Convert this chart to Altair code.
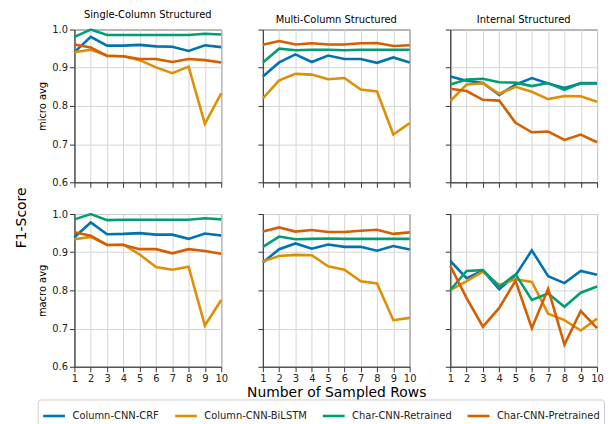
import altair as alt
import pandas as pd

x_rows = [1, 2, 3, 4, 5, 6, 7, 8, 9, 10]
models = ["Column-CNN-CRF", "Column-CNN-BiLSTM", "Char-CNN-Retrained", "Char-CNN-Pretrained"]
colors = ["#0173b2", "#de8f05", "#029e73", "#d55e00"]
datasets = ["Single-Column Structured", "Multi-Column Structured", "Internal Structured"]
metrics = ["micro avg", "macro avg"]

# micro avg
single_micro_crf = [0.941, 0.981, 0.958, 0.958, 0.960, 0.956, 0.955, 0.944, 0.959, 0.954]
single_micro_bilstm = [0.941, 0.947, 0.932, 0.930, 0.920, 0.901, 0.886, 0.903, 0.753, 0.833]
single_micro_retr = [0.981, 1.000, 0.986, 0.986, 0.986, 0.986, 0.986, 0.986, 0.989, 0.987]
single_micro_pret = [0.961, 0.953, 0.931, 0.930, 0.923, 0.923, 0.915, 0.923, 0.920, 0.914]

multi_micro_crf = [0.877, 0.914, 0.935, 0.915, 0.932, 0.923, 0.923, 0.913, 0.927, 0.914]
multi_micro_bilstm = [0.820, 0.867, 0.884, 0.882, 0.870, 0.873, 0.843, 0.838, 0.725, 0.755]
multi_micro_retr = [0.914, 0.950, 0.946, 0.947, 0.947, 0.946, 0.947, 0.947, 0.947, 0.947]
multi_micro_pret = [0.960, 0.970, 0.961, 0.964, 0.961, 0.961, 0.964, 0.965, 0.957, 0.959]

internal_micro_crf = [0.877, 0.866, 0.860, 0.829, 0.856, 0.873, 0.859, 0.847, 0.859, 0.859]
internal_micro_bilstm = [0.813, 0.856, 0.859, 0.832, 0.850, 0.837, 0.818, 0.826, 0.825, 0.811]
internal_micro_retr = [0.856, 0.869, 0.871, 0.862, 0.861, 0.852, 0.860, 0.842, 0.860, 0.860]
internal_micro_pret = [0.845, 0.839, 0.816, 0.814, 0.756, 0.731, 0.733, 0.711, 0.725, 0.705]

# macro avg
single_macro_crf = [0.939, 0.978, 0.947, 0.948, 0.950, 0.946, 0.946, 0.935, 0.949, 0.944]
single_macro_bilstm = [0.934, 0.940, 0.919, 0.920, 0.894, 0.861, 0.854, 0.862, 0.708, 0.775]
single_macro_retr = [0.986, 1.000, 0.984, 0.985, 0.985, 0.985, 0.985, 0.985, 0.989, 0.986]
single_macro_pret = [0.952, 0.943, 0.919, 0.919, 0.908, 0.908, 0.897, 0.908, 0.903, 0.896]

multi_macro_crf = [0.873, 0.908, 0.923, 0.909, 0.920, 0.914, 0.914, 0.904, 0.916, 0.907]
multi_macro_bilstm = [0.876, 0.890, 0.893, 0.892, 0.863, 0.854, 0.824, 0.818, 0.722, 0.728]
multi_macro_retr = [0.914, 0.941, 0.934, 0.935, 0.936, 0.935, 0.935, 0.935, 0.935, 0.935]
multi_macro_pret = [0.954, 0.965, 0.954, 0.958, 0.953, 0.953, 0.956, 0.959, 0.948, 0.952]

internal_macro_crf = [0.877, 0.832, 0.852, 0.803, 0.839, 0.905, 0.837, 0.819, 0.851, 0.841]
internal_macro_bilstm = [0.801, 0.824, 0.849, 0.814, 0.829, 0.822, 0.739, 0.722, 0.695, 0.726]
internal_macro_retr = [0.801, 0.851, 0.853, 0.809, 0.842, 0.775, 0.792, 0.757, 0.794, 0.810]
internal_macro_pret = [0.864, 0.780, 0.705, 0.754, 0.825, 0.701, 0.804, 0.658, 0.746, 0.701]

y_ticks = [0.6, 0.7, 0.8, 0.9, 1.0]

panels = {
    ("micro avg", "Single-Column Structured"): [single_micro_crf, single_micro_bilstm, single_micro_retr, single_micro_pret],
    ("micro avg", "Multi-Column Structured"): [multi_micro_crf, multi_micro_bilstm, multi_micro_retr, multi_micro_pret],
    ("micro avg", "Internal Structured"): [internal_micro_crf, internal_micro_bilstm, internal_micro_retr, internal_micro_pret],
    ("macro avg", "Single-Column Structured"): [single_macro_crf, single_macro_bilstm, single_macro_retr, single_macro_pret],
    ("macro avg", "Multi-Column Structured"): [multi_macro_crf, multi_macro_bilstm, multi_macro_retr, multi_macro_pret],
    ("macro avg", "Internal Structured"): [internal_macro_crf, internal_macro_bilstm, internal_macro_retr, internal_macro_pret],
}

FONT = "DejaVu Sans"
PW, PH = 148, 154


def make_panel(metric, ds, ri, ci):
    recs = []
    for m, vals in zip(models, panels[(metric, ds)]):
        for xv, v in zip(x_rows, vals):
            recs.append({"x": xv, "value": v, "model": m})
    df = pd.DataFrame(recs)

    xaxis = dict(values=x_rows, labels=(ri == 1), tickSize=5, labelFontSize=10,
                 labelPadding=2, grid=True, labelFlush=False)
    if ri == 1 and ci == 1:
        xaxis.update(title="Number of Sampled Rows", titleFontSize=14,
                     titleFontWeight="normal", titlePadding=2)
    else:
        xaxis.update(title=None)
    yaxis = dict(values=y_ticks, format=".1f", labels=(ci == 0), tickSize=5,
                 labelFontSize=10, labelPadding=2, grid=True)
    if ci == 0:
        yaxis.update(title=metric, titleFontSize=10, titleFontWeight="normal", titlePadding=4)
    else:
        yaxis.update(title=None)

    props = dict(width=PW, height=PH)
    if ri == 0:
        props["title"] = alt.TitleParams(ds, fontSize=10, fontWeight="normal", font=FONT,
                                         offset=4, color="#000")
    ch = alt.Chart(df).mark_line(strokeWidth=2.6).encode(
        x=alt.X("x:Q", scale=alt.Scale(domain=[1, 10], nice=False, zero=False), axis=alt.Axis(**xaxis)),
        y=alt.Y("value:Q", scale=alt.Scale(domain=[0.6, 1.0], nice=False, zero=False), axis=alt.Axis(**yaxis)),
        color=alt.Color("model:N", scale=alt.Scale(domain=models, range=colors),
                        legend=alt.Legend(title=None, orient="none", direction="horizontal",
                                          legendX=-37, legendY=373)),
    ).properties(**props)
    return ch


cells = []
for ri, metric in enumerate(metrics):
    for ci, ds in enumerate(datasets):
        cells.append(make_panel(metric, ds, ri, ci))

chart = alt.concat(*cells, columns=3, align="each", spacing={"row": 20, "column": 18}).properties(
    title=alt.TitleParams("F1-Score", orient="left", anchor="middle", fontSize=14,
                          fontWeight="normal", font=FONT, color="#000", offset=8)
).configure(font=FONT, padding={"left": 7, "top": 0, "right": 0, "bottom": 0}).configure_view(
    stroke="#333", strokeWidth=1
).configure_axis(
    domainColor="#333", tickColor="#333", gridColor="#d4d4d4", gridWidth=1,
    labelColor="#222", titleColor="#000", labelFont=FONT, titleFont=FONT
).configure_legend(
    symbolType="stroke", symbolStrokeWidth=2.6, symbolSize=484, labelFontSize=10,
    labelFont=FONT, labelColor="#222", columnPadding=10, strokeColor="#ccc",
    padding=4, cornerRadius=3, labelLimit=200, labelOffset=6
)

chart.save("out.html", embed_options={"renderer": "svg", "actions": False})
